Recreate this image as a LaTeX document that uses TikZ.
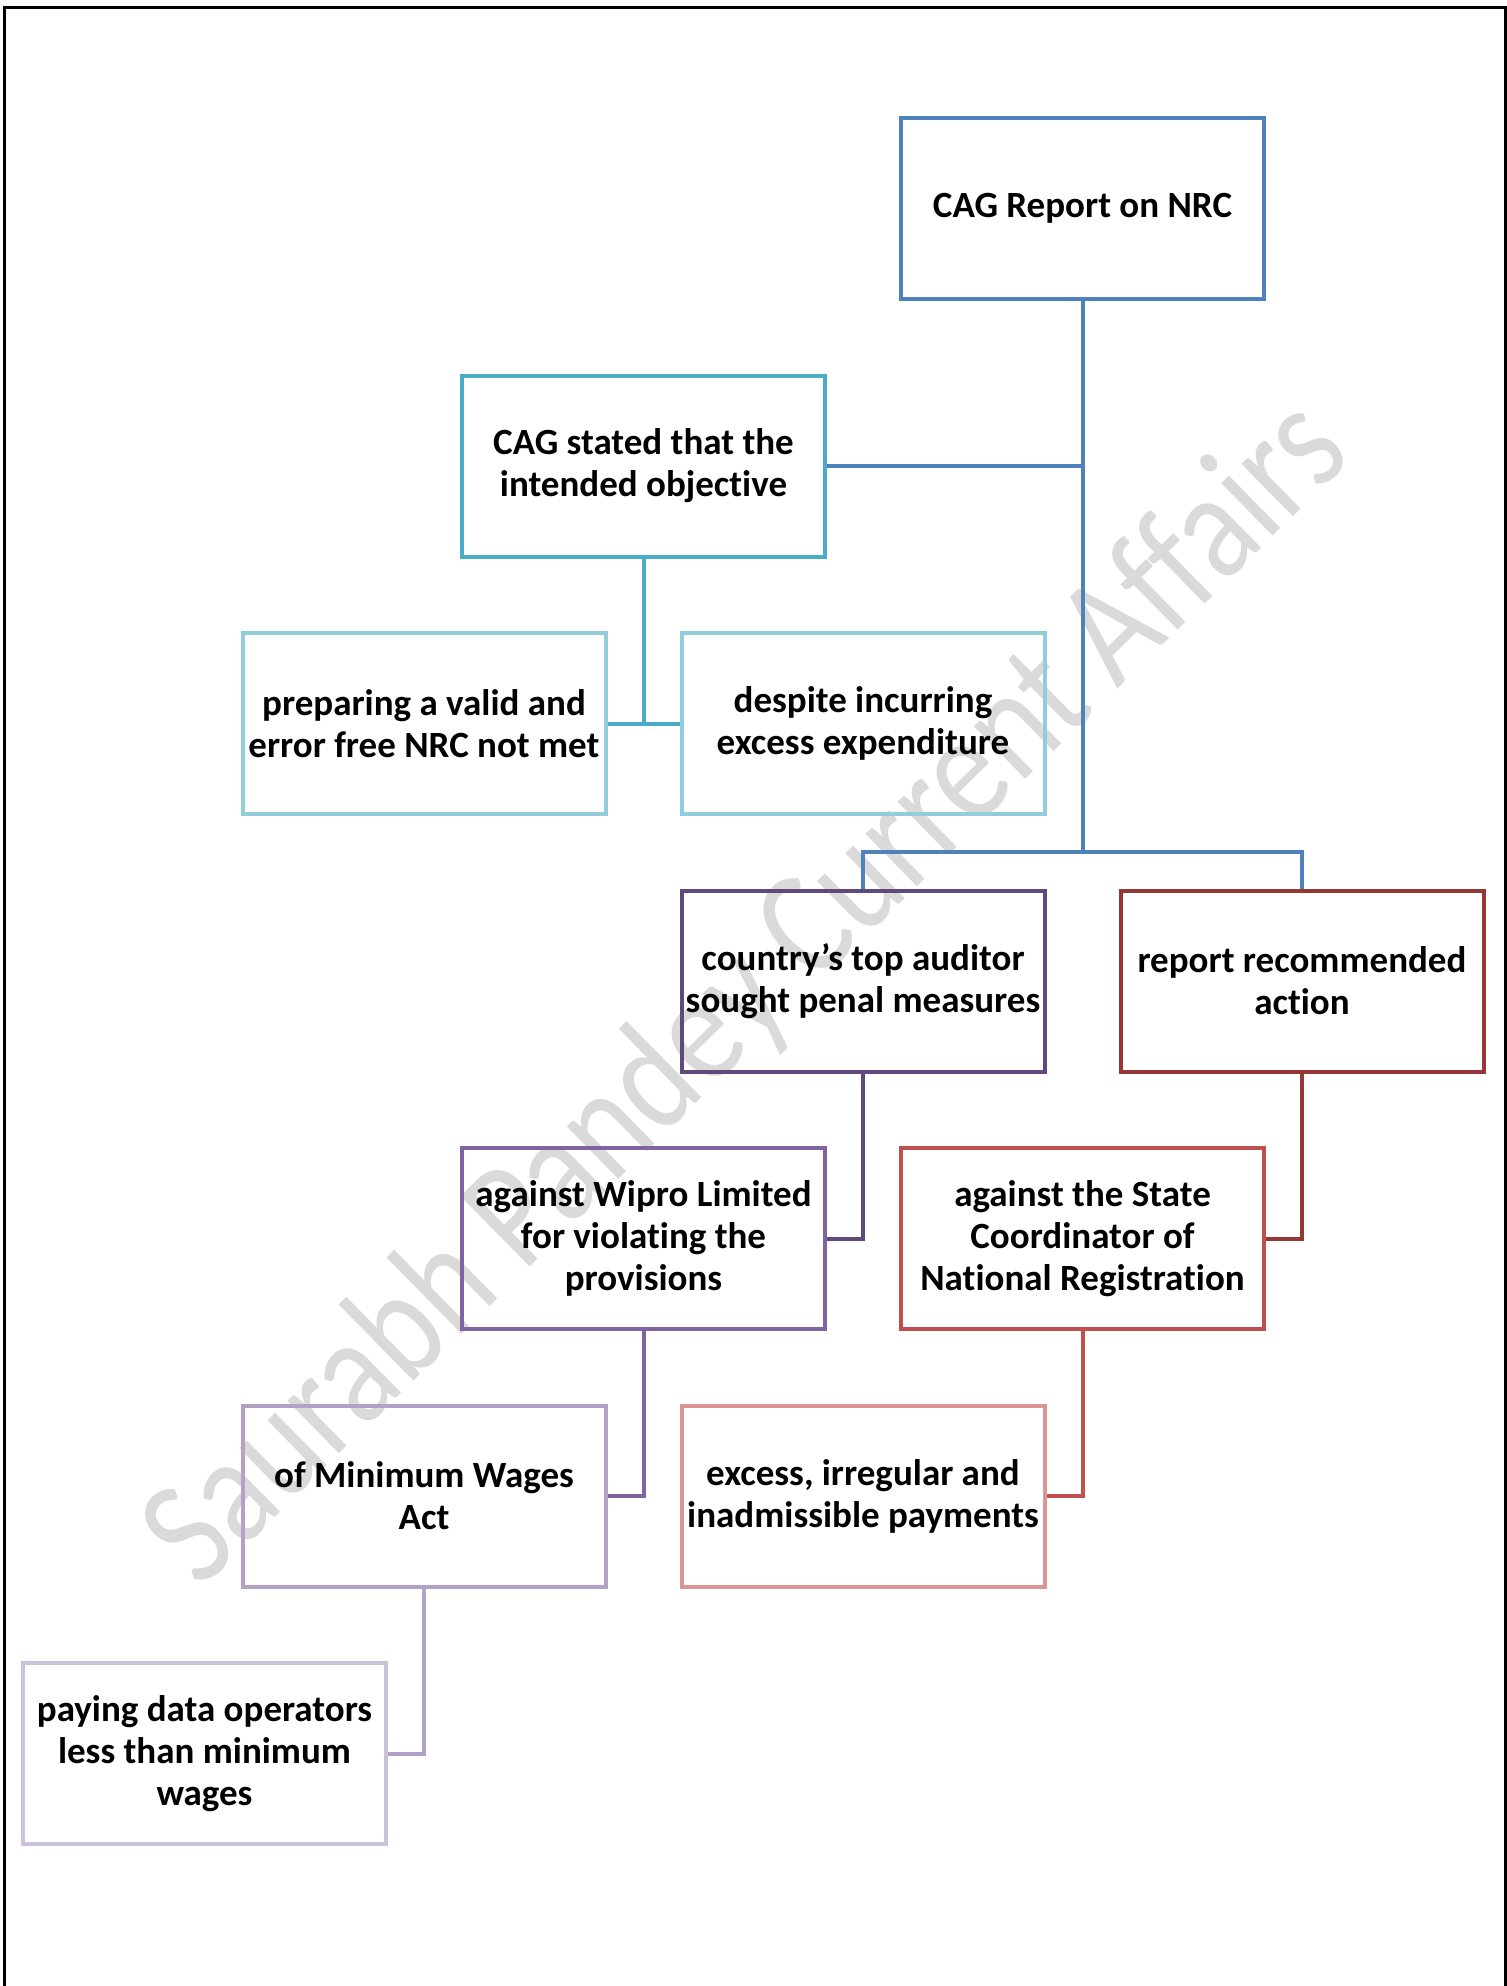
\documentclass[tikz,border=0pt]{standalone}
\usepackage{fontspec}
\setmainfont{Carlito}[Ligatures=NoCommon]
\usepackage{tikz}
\usepackage{xcolor}

\definecolor{rootblue}{HTML}{4F81BD}
\definecolor{aqua}{HTML}{4BACC6}
\definecolor{aqualight}{HTML}{92CDDC}
\definecolor{purpledark}{HTML}{604A7B}
\definecolor{purplemid}{HTML}{8064A2}
\definecolor{purplelight}{HTML}{B3A2C7}
\definecolor{purplepale}{HTML}{CCC1DA}
\definecolor{reddark}{HTML}{953735}
\definecolor{redmid}{HTML}{C0504D}
\definecolor{redlight}{HTML}{D99694}
\definecolor{wmgray}{HTML}{DADADA}

\begin{document}
\begin{tikzpicture}[x=0.5pt, y=-0.5pt,
    font=\fontsize{18.5}{21}\selectfont\bfseries,
    box/.style={draw=#1, line width=2pt, align=center, inner sep=2pt,
      minimum width=181.5pt, minimum height=90.5pt},
    link/.style={draw=#1, line width=2pt}]
  \useasboundingbox (0,0) rectangle (1507,1986);
  % frame and watermark
  \draw[line width=1.5pt] (4.5,1986) -- (4.5,7.5) -- (1505.5,7.5) -- (1505.5,1986);
  \node[wmgray, anchor=base, rotate=44.5, xscale=0.83,
    font=\fontsize{77}{77}\selectfont] (mark) at (777,1024)
    {Saurabh Pandey Current Affairs};
  % boxes
  \node[box=rootblue] (root) at (1082.5,208.5) {CAG Report on NRC};
  \node[box=aqua] (stated) at (643.5,466) {CAG stated that the\\intended objective};
  \node[box=aqualight] (preparing) at (424,723.5) {preparing a valid and\\error free NRC not met};
  \node[box=aqualight] (despite) at (863,723.5) {despite incurring\\excess expenditure};
  \node[box=purpledark] (auditor) at (863,981) {country’s top auditor\\sought penal measures};
  \node[box=reddark] (recommended) at (1302,981) {report recommended\\action};
  \node[box=purplemid] (wipro) at (643.5,1238.5) {against Wipro Limited\\for violating the\\provisions};
  \node[box=redmid] (state) at (1082.5,1238.5) {against the State\\Coordinator of\\National Registration};
  \node[box=purplelight] (minimum) at (424,1496) {of Minimum Wages\\Act};
  \node[box=redlight] (excess) at (863,1496) {excess, irregular and\\inadmissible payments};
  \node[box=purplepale] (paying) at (204.5,1753.5) {paying data operators\\less than minimum\\wages};
  % connectors
  \coordinate (bus) at (1082.5,852);
  \draw[link=rootblue] (root.south) -- (bus);
  \draw[link=rootblue] (stated.east) -- (stated.east -| root.south);
  \draw[link=rootblue] (auditor.north) |- (bus) -| (recommended.north);
  \draw[link=aqua] (stated.south) -- (stated.south |- preparing.east);
  \draw[link=aqua] (preparing.east) -- (despite.west);
  \draw[link=purpledark] (auditor.south) |- (wipro.east);
  \draw[link=reddark] (recommended.south) |- (state.east);
  \draw[link=purplemid] (wipro.south) |- (minimum.east);
  \draw[link=redmid] (state.south) |- (excess.east);
  \draw[link=purplelight] (minimum.south) |- (paying.east);
\end{tikzpicture}
\end{document}
